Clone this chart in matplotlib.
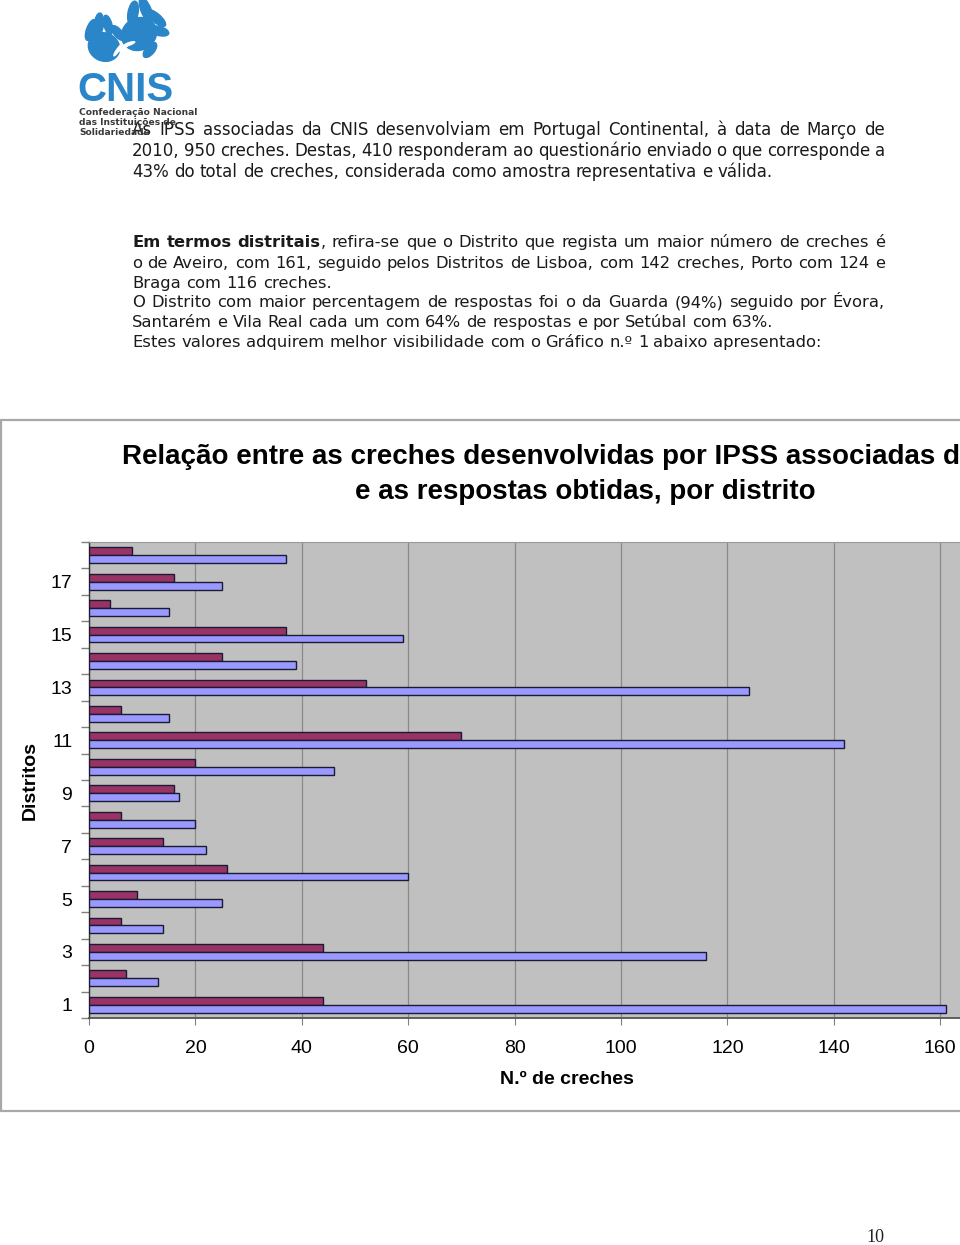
import matplotlib
matplotlib.use('Agg')
import matplotlib.pyplot as plt
from matplotlib.patches import Rectangle, Ellipse
import numpy as np

# ---------------- data ----------------
districts = list(range(1, 19))
creches = [161, 13, 116, 14, 25, 60, 22, 20, 17, 46, 142, 15, 124, 39, 59, 15, 25, 37]
respostas = [44, 7, 44, 6, 9, 26, 14, 6, 16, 20, 70, 6, 52, 25, 37, 4, 16, 8]
x_ticks = [0, 20, 40, 60, 80, 100, 120, 140, 160]
y_tick_labels = [1, 3, 5, 7, 9, 11, 13, 15, 17]

title_line1 = "Relação entre as creches desenvolvidas por IPSS associadas d"
title_line2 = "e as respostas obtidas, por distrito"
x_label = "N.º de creches"
y_label = "Distritos"

para1 = [
    ("As IPSS associadas da CNIS desenvolviam em Portugal Continental, à data de Março de", True),
    ("2010, 950 creches. Destas, 410 responderam ao questionário enviado o que corresponde a", True),
    ("43% do total de creches, considerada como amostra representativa e válida.", False),
]
para2 = [
    ("**Em termos distritais**, refira-se que o Distrito que regista um maior número de creches é", True),
    ("o de Aveiro, com 161, seguido pelos Distritos de Lisboa, com 142 creches, Porto com 124 e", True),
    ("Braga com 116 creches.", False),
    ("O Distrito com maior percentagem de respostas foi o da Guarda (94%) seguido por Évora,", True),
    ("Santarém e Vila Real cada um com 64% de respostas e por Setúbal com 63%.", False),
    ("Estes valores adquirem melhor visibilidade com o Gráfico n.º 1 abaixo apresentado:", False),
]

# ---------------- figure ----------------
W, H = 960, 1245
fig = plt.figure(figsize=(W / 100, H / 100), dpi=100)
renderer = fig.canvas.get_renderer()

bg = fig.add_axes([0, 0, 1, 1], zorder=0)
bg.set_xlim(0, W)
bg.set_ylim(H, 0)
bg.axis('off')

BODY_FONT = 'DejaVu Sans'
TEXT_COL = '#1a1a1a'


def seg_width(text, weight, size):
    t = bg.text(0, 0, text, fontsize=size, family=BODY_FONT, weight=weight)
    w = t.get_window_extent(renderer).width
    t.remove()
    return w


def parse_words(line):
    words = []
    bold = False
    for raw in line.split(' '):
        segs = []
        parts = raw.split('**')
        for i, p in enumerate(parts):
            if i > 0:
                bold = not bold
            if p:
                segs.append((p, 'bold' if bold else 'normal'))
        words.append(segs)
    return words


def draw_line(line, justify, x0, x1, yb, size):
    space_w = seg_width("a a", 'normal', size) - seg_width("aa", 'normal', size)
    words = parse_words(line)
    widths = [sum(seg_width(s, w, size) for s, w in wd) for wd in words]
    if justify and len(words) > 1:
        gap = (x1 - x0 - sum(widths)) / (len(words) - 1)
        gap = max(gap, 0.7 * space_w)
    else:
        gap = space_w
    x = x0
    for wd, ww in zip(words, widths):
        xx = x
        for s, w in wd:
            bg.text(xx, yb, s, fontsize=size, family=BODY_FONT, weight=w,
                    ha='left', va='baseline', color=TEXT_COL)
            xx += seg_width(s, w, size)
        x += ww + gap


for (line, j), yb in zip(para1, [135, 156, 177]):
    draw_line(line, j, 132, 885, yb, 12.0)
for (line, j), yb in zip(para2, [247, 268, 288, 307, 327, 347]):
    draw_line(line, j, 132, 885, yb, 11.8)

# ---------------- logo ----------------
blue = '#2a86c8'
# right (upper) hand: palm + fingers pointing up-right
bg.add_patch(Ellipse((139, 34), 36, 32, angle=-30, color=blue))
for cx, cy, w, h, a in [(133, 13, 10, 24, -10), (146, 10, 10, 26, 22), (156, 18, 9, 24, 50),
                        (159, 31, 9, 20, 75), (150, 50, 9, 18, -40)]:
    bg.add_patch(Ellipse((cx, cy), w, h, angle=-a, color=blue))
# left (lower) hand: palm + fingers pointing up-left
bg.add_patch(Ellipse((104, 47), 32, 28, angle=25, color=blue))
for cx, cy, w, h, a in [(91, 30, 9, 22, -20), (99, 24, 9, 22, -5), (108, 25, 8, 20, 15),
                        (118, 33, 8, 18, 40)]:
    bg.add_patch(Ellipse((cx, cy), w, h, angle=-a, color=blue))
# small child hand outline (white)
for cx, cy, w, h, a in [(118, 50, 2.5, 14, -35), (124, 47, 2.5, 14, -55), (129, 44, 2.5, 12, -70),
                        (122, 58, 14, 2.5, 20)]:
    bg.add_patch(Ellipse((cx, cy), w, h, angle=-a, color='white'))

bg.text(77, 101, "CNIS", fontsize=29, weight='bold', family='Liberation Sans',
        color=blue, ha='left', va='baseline')
for t, yb in [("Confederação Nacional", 115), ("das Instituições de", 125), ("Solidariedade", 135)]:
    bg.text(79, yb, t, fontsize=6.6, weight='bold', family='DejaVu Sans', color='#3a3a3a',
            ha='left', va='baseline')

# page number
bg.text(875, 1237, "10", fontsize=13, family='Liberation Serif', color='#222222',
        ha='center', va='center')

# ---------------- chart frame ----------------
bg.add_patch(Rectangle((1, 420), 1100, 691, facecolor='white', edgecolor='#a8a8a8', lw=1.6))

bg.text(122, 457, title_line1, fontsize=20, weight='bold', family='Liberation Sans',
        ha='left', va='center', color='black')
bg.text(585, 492, title_line2, fontsize=20, weight='bold', family='Liberation Sans',
        ha='center', va='center', color='black')
bg.text(567, 1080, x_label, fontsize=14, weight='bold', family='Liberation Sans',
        ha='center', va='center', color='black')
bg.text(30, 780, y_label, fontsize=14, weight='bold', family='Liberation Sans',
        ha='center', va='center', rotation=90, color='black')

# ---------------- chart ----------------
ax = fig.add_axes([89 / W, 1 - 1018 / H, 871 / W, 476 / H], zorder=2)
ax.set_facecolor('#c0c0c0')
y = np.array(districts, dtype=float)
bh = 0.3
ax.barh(y + bh / 2, respostas, height=bh, color='#993366', edgecolor='#1a1a33',
        linewidth=1.0, zorder=3)
ax.barh(y - bh / 2, creches, height=bh, color='#9999ff', edgecolor='#1a1a33',
        linewidth=1.0, zorder=3)

ax.set_xlim(0, 871 / 5.32)
ax.set_ylim(0.5, 18.5)
ax.set_xticks(x_ticks)
ax.set_xticklabels([str(v) for v in x_ticks], family='Liberation Sans')
ax.set_yticks(y_tick_labels)
ax.set_yticklabels([str(v) for v in y_tick_labels], family='Liberation Sans')
ax.set_yticks(np.arange(0.5, 18.6, 1.0), minor=True)
ax.tick_params(axis='y', which='major', length=0, pad=12, labelsize=14)
ax.tick_params(axis='y', which='minor', length=6, color='#808080', width=1)
ax.tick_params(axis='x', which='major', length=5, pad=11, labelsize=14, color='#808080')
ax.grid(axis='x', color='#8a8a8a', lw=0.9)
ax.set_axisbelow(True)

ax.spines['left'].set_color('#333333')
ax.spines['left'].set_linewidth(1.0)
ax.spines['bottom'].set_color('#555555')
ax.spines['bottom'].set_linewidth(1.3)
ax.spines['top'].set_color('#999999')
ax.spines['right'].set_visible(False)

fig.savefig('out.png', dpi=100)
